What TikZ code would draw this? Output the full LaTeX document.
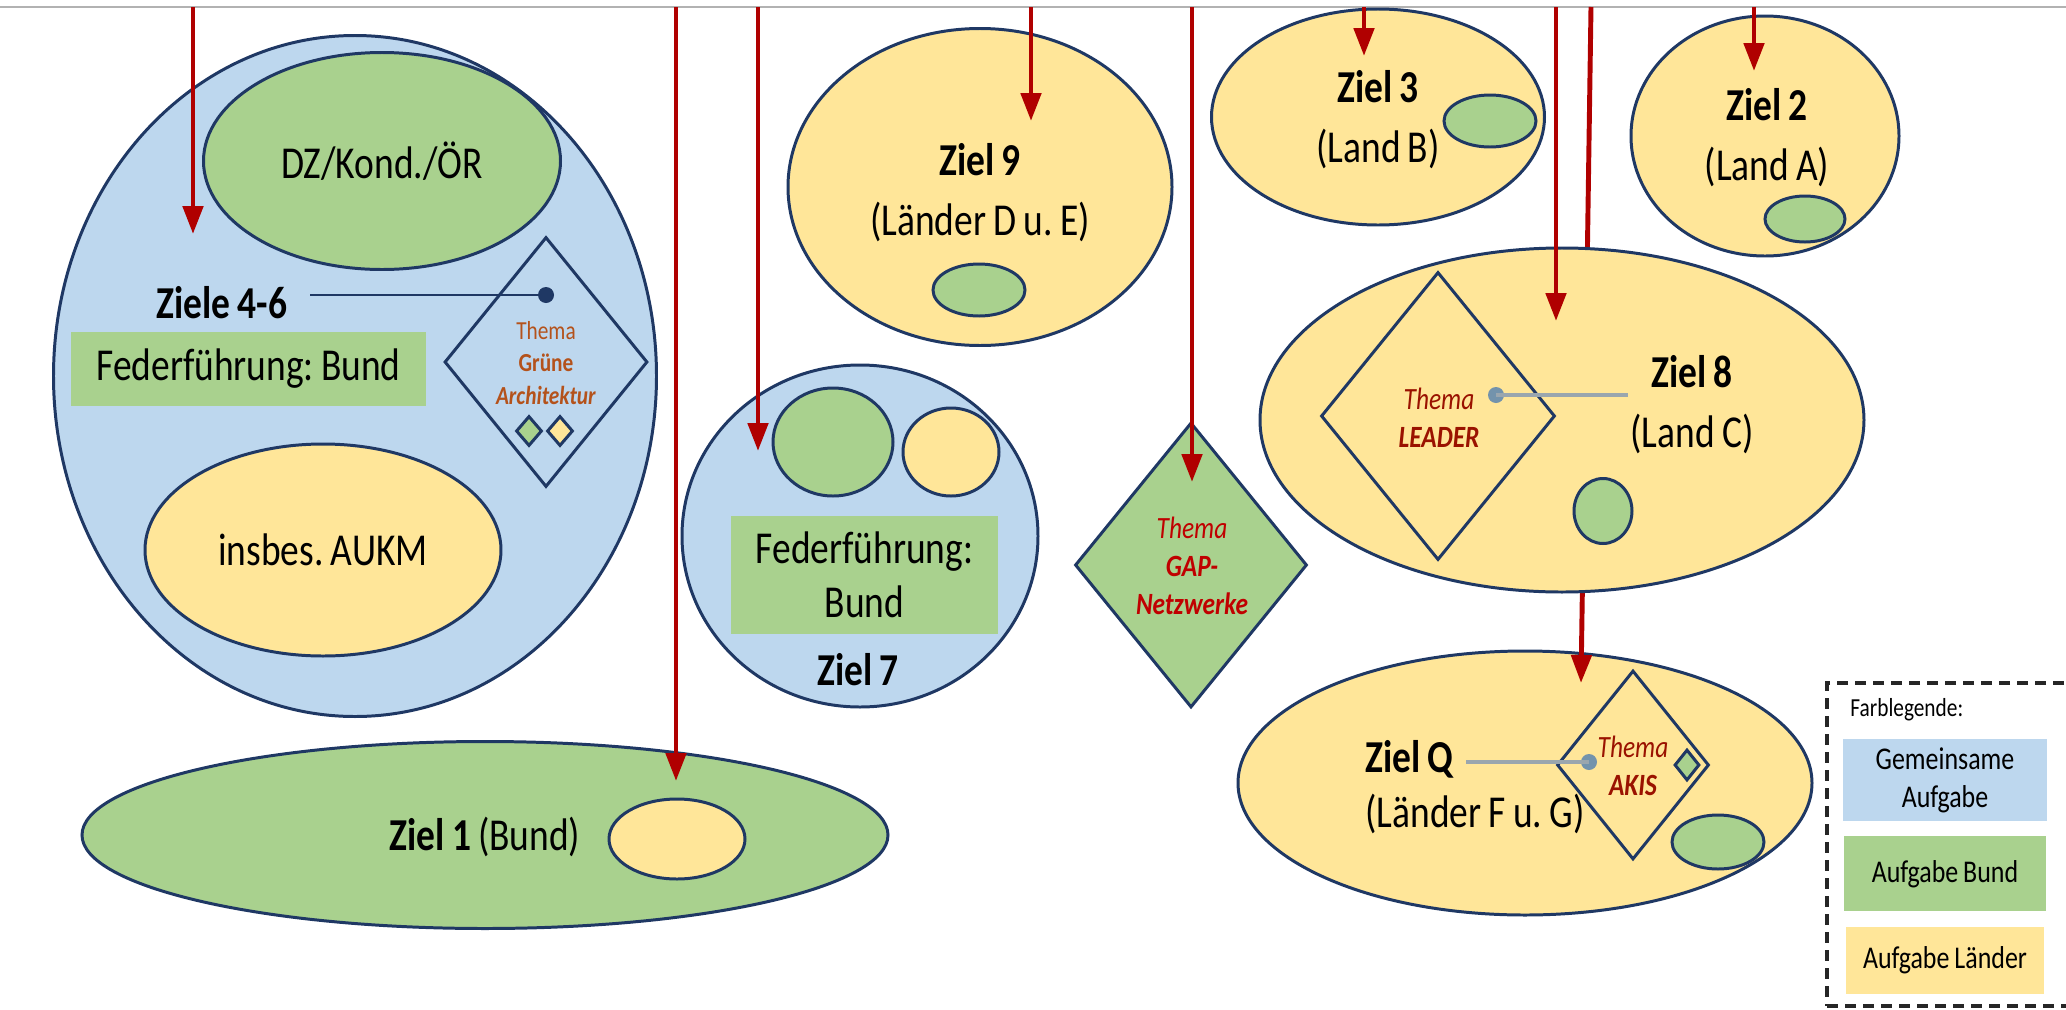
\documentclass[tikz,border=0pt]{standalone}
\usepackage{fontspec}
\setmainfont{Carlito}[FakeStretch=0.82,WordSpace=0.85]
\frenchspacing
\usetikzlibrary{arrows.meta,positioning,shapes.geometric}

\definecolor{blau}{HTML}{BDD7EE}
\definecolor{gruen}{HTML}{A9D18E}
\definecolor{gelb}{HTML}{FFE699}
\definecolor{rand}{HTML}{1F3864}
\definecolor{pfeilrot}{HTML}{B00000}
\definecolor{gaprot}{HTML}{C00000}
\definecolor{themarot}{HTML}{9A1200}
\definecolor{themabraun}{HTML}{B4521B}
\definecolor{linie}{HTML}{9AA6AE}
\definecolor{punktgrau}{HTML}{7393AC}

\begin{document}
\begin{tikzpicture}[font=\fontsize{13}{17}\selectfont]
  %----- styles
  \tikzset{
    ell/.style      ={ellipse,draw=rand,line width=0.85pt,inner sep=0pt,align=center},
    raute/.style    ={diamond,draw=rand,line width=0.85pt,inner sep=0pt},
    feld/.style     ={fill=gruen,inner sep=0pt,align=center},
    txt/.style      ={align=center},
    ziel/.style     ={font=\fontsize{13}{17}\selectfont\bfseries},
    thema/.style    ={align=center,font=\fontsize{8.8}{10.8}\selectfont\itshape},
    punkt/.style    ={circle,fill=#1,inner sep=0pt,minimum size=1.6mm},
    punkt/.default  =rand,
    bezug/.style    ={draw=linie,line width=1pt},
    pfeil/.style    ={-{Triangle[width=2mm,length=2.8mm]},line width=1.4pt,draw=pfeilrot},
    legrahmen/.style={draw=black!85,dash pattern=on 1.1mm off 0.7mm,line width=0.9pt},
    legfeld/.style  ={inner sep=0pt,align=center,font=\fontsize{9}{10.8}\selectfont}
  }

  \useasboundingbox (0,0) rectangle (20.66,-10.10);

  % thin rule at the top
  \coordinate (rlinks)  at (0,-0.07);
  \coordinate (rrechts) at (20.66,-0.07);
  \draw[gray!60,line width=0.5pt] (rlinks) -- (rrechts);

  %----- nodes
  % Ziele 4-6 (blue)
  \node[ell,fill=blau,minimum width=6.03cm,minimum height=6.81cm] (z46) at (3.55,-3.76) {};
  \node[ell,fill=gruen,minimum width=3.57cm,minimum height=2.17cm] (dzor) at (3.82,-1.61) {DZ/Kond./ÖR};
  \node[ell,fill=gelb,minimum width=3.56cm,minimum height=2.12cm] (aukm) at (3.23,-5.50) {insbes. AUKM};
  \node[feld,minimum width=3.55cm,minimum height=0.74cm] (ff1) at (2.485,-3.69) {Federführung: Bund};
  \node[ziel] (l46) at (2.22,-3.03) {Ziele 4-6};
  \node[raute,minimum width=2.03cm,minimum height=2.50cm] (ga) at (5.46,-3.62) {};
  \node[raute,fill=gruen,minimum width=0.26cm,minimum height=0.30cm] (gag) at (5.29,-4.31) {};
  \node[raute,fill=gelb,minimum width=0.26cm,minimum height=0.30cm] (gay) at (5.60,-4.31) {};
  \node[txt,text=themabraun,font=\fontsize{7.4}{9.3}\selectfont] (tga) at (5.46,-3.63)
    {Thema\\\textbf{Grüne}\\\textbf{\textit{Architektur}}};
  \node[punkt] (dga) at (5.46,-2.95) {};
  \draw[draw=rand,line width=0.8pt,shorten >=1mm] (dga.center) -- (dga.center -| l46.east);

  % Ziel 7 (blue)
  \node[ell,fill=blau,minimum width=3.56cm,minimum height=3.42cm] (z7) at (8.60,-5.36) {};
  \node[ell,fill=gruen,minimum width=1.20cm,minimum height=1.08cm] (z7g) at (8.33,-4.42) {};
  \node[ell,fill=gelb,minimum width=0.96cm,minimum height=0.88cm] (z7y) at (9.51,-4.52) {};
  \node[feld,minimum width=2.67cm,minimum height=1.18cm,font=\fontsize{13}{15.5}\selectfont] (ff2) at (8.645,-5.75)
    {Federführung:\\Bund};
  \node[ziel] (l7) at (8.58,-6.70) {Ziel 7};

  % GAP-Netzwerke
  \node[raute,fill=gruen,minimum width=2.32cm,minimum height=2.85cm] (gap) at (11.91,-5.65) {};
  \node[thema,text=gaprot] (tgap) at (11.92,-5.66) {Thema\\\textbf{GAP-}\\\textbf{Netzwerke}};

  % Ziel 9, Ziel 3, Ziel 2 (yellow)
  \node[ell,fill=gelb,minimum width=3.84cm,minimum height=3.17cm] (z9) at (9.80,-1.87) {};
  \node[txt] (l9) at (9.80,-1.93) {\textbf{Ziel 9}\\(Länder D u. E)};
  \node[ell,fill=gruen,minimum width=0.92cm,minimum height=0.52cm] (z9g) at (9.79,-2.90) {};

  \node[ell,fill=gelb,minimum width=3.33cm,minimum height=2.16cm] (z3) at (13.78,-1.17) {};
  \node[txt] (l3) at (13.78,-1.195) {\textbf{Ziel 3}\\(Land B)};
  \node[ell,fill=gruen,minimum width=0.92cm,minimum height=0.52cm] (z3g) at (14.90,-1.21) {};

  \node[ell,fill=gelb,minimum width=2.68cm,minimum height=2.40cm] (z2) at (17.65,-1.36) {};
  \node[txt] (l2) at (17.67,-1.38) {\textbf{Ziel 2}\\(Land A)};
  \node[ell,fill=gruen,minimum width=0.80cm,minimum height=0.46cm] (z2g) at (18.05,-2.19) {};

  % Ziel Q
  \node[ell,fill=gelb,minimum width=5.74cm,minimum height=2.64cm] (zq) at (15.25,-7.83) {};
  \node[ziel,anchor=west] (lq) at (13.53,-7.59) {Ziel Q};
  \node[anchor=west] (lqb) at (13.53,-8.14) {(Länder F u. G)};
  \node[raute,minimum width=1.52cm,minimum height=1.89cm] (akis) at (16.33,-7.65) {};
  \node[raute,fill=gruen,minimum width=0.25cm,minimum height=0.31cm] (akg) at (16.87,-7.65) {};
  \node[ell,fill=gruen,minimum width=0.92cm,minimum height=0.54cm] (zqg) at (17.18,-8.42) {};
  \node[thema,text=themarot] (takis) at (16.33,-7.655) {Thema\\\textbf{AKIS}};
  \node[punkt=punktgrau] (dq) at (15.89,-7.62) {};
  \draw[bezug] (dq.center) -- (dq.center -| lq.east);

  % this arrow runs behind Ziel 8 into Ziel Q
  \coordinate (obenq) at (15.91,-0.07);
  \coordinate (spitzeq) at (15.81,-6.83);
  \draw[pfeil] (obenq) -- (spitzeq);

  % Ziel 8
  \node[ell,fill=gelb,minimum width=6.04cm,minimum height=3.44cm] (z8) at (15.62,-4.20) {};
  \node[raute,minimum width=2.34cm,minimum height=2.88cm] (leader) at (14.38,-4.16) {};
  \node[thema,text=themarot] (tleader) at (14.39,-4.18) {Thema\\\textbf{LEADER}};
  \node[txt] (l8) at (16.92,-4.05) {\textbf{Ziel 8}\\(Land C)};
  \node[punkt=punktgrau] (d8) at (14.96,-3.95) {};
  \draw[bezug,shorten >=-1mm] (d8.center) -- (d8.center -| l8.west);
  \node[ell,fill=gruen,minimum width=0.58cm,minimum height=0.65cm] (z8g) at (16.03,-5.11) {};

  % Ziel 1 (green)
  \node[ell,fill=gruen,minimum width=8.06cm,minimum height=1.87cm] (z1) at (4.85,-8.35) {};
  \node (l1) at (4.85,-8.37) {\textbf{Ziel 1} (Bund)};
  \node[ell,fill=gelb,minimum width=1.36cm,minimum height=0.80cm] (z1y) at (6.77,-8.39) {};

  %----- arrows from the top rule
  \coordinate (oben46) at (1.93,-0.07);  \coordinate (spitze46) at (1.93,-2.34);
  \coordinate (oben1)  at (6.76,-0.07);  \coordinate (spitze1)  at (6.76,-7.81);
  \coordinate (oben7)  at (7.58,-0.07);  \coordinate (spitze7)  at (7.58,-4.51);
  \coordinate (oben9)  at (10.31,-0.07); \coordinate (spitze9)  at (10.31,-1.21);
  \coordinate (obengap) at (11.92,-0.07); \coordinate (spitzegap) at (11.92,-4.82);
  \coordinate (oben3)  at (13.64,-0.07); \coordinate (spitze3)  at (13.64,-0.56);
  \coordinate (oben8)  at (15.56,-0.07); \coordinate (spitze8)  at (15.56,-3.21);
  \coordinate (oben2)  at (17.54,-0.07); \coordinate (spitze2)  at (17.54,-0.71);

  \draw[pfeil] (oben46) -- (spitze46);
  \draw[pfeil] (oben1) -- (spitze1);
  \draw[pfeil] (oben7) -- (spitze7);
  \draw[pfeil] (oben9) -- (spitze9);
  \draw[pfeil] (obengap) -- (spitzegap);
  \draw[pfeil] (oben3) -- (spitze3);
  \draw[pfeil] (oben8) -- (spitze8);
  \draw[pfeil] (oben2) -- (spitze2);

  %----- legend
  \node[legrahmen,minimum width=2.45cm,minimum height=3.23cm] (leg) at (19.495,-8.445) {};
  \node[anchor=west,font=\fontsize{7.4}{9}\selectfont] (legtitel) at (18.38,-7.10) {Farblegende:};
  \node[legfeld,fill=blau,minimum width=2.04cm,minimum height=0.82cm] (legblau) at (19.45,-7.80) {Gemeinsame\\Aufgabe};
  \node[legfeld,fill=gruen,minimum width=2.02cm,minimum height=0.75cm,below=0.14cm of legblau] (leggruen) {Aufgabe Bund};
  \node[legfeld,fill=gelb,minimum width=1.98cm,minimum height=0.67cm,below=0.14cm of leggruen] (leggelb) {Aufgabe Länder};
\end{tikzpicture}
\end{document}
